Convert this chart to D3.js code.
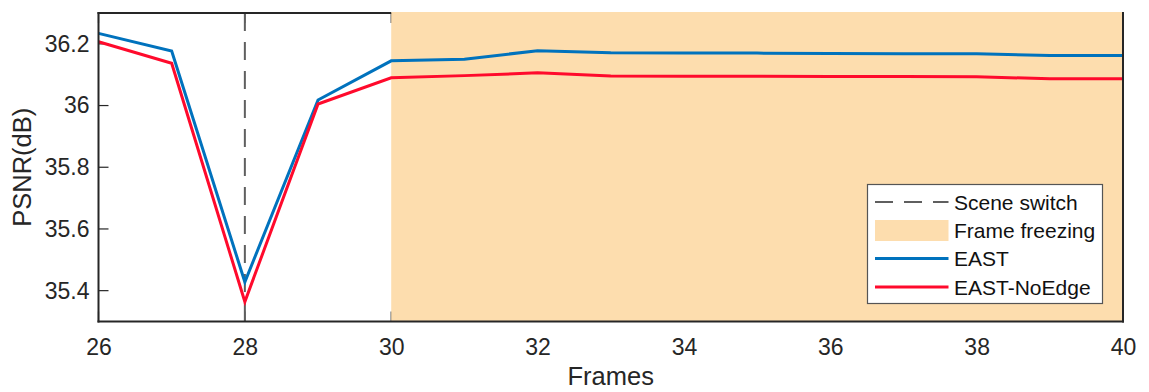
<!DOCTYPE html>
<html>
<head>
<meta charset="utf-8">
<script src="https://cdn.jsdelivr.net/npm/d3@7"></script>
<style>
  html, body { margin: 0; padding: 0; background: #fff; }
  svg { display: block; font-family: "Liberation Sans", Arial, Helvetica, sans-serif; }
</style>
</head>
<body>
<svg id="chart" width="1149" height="392"></svg>
<script>
// Frame indices and PSNR per method
const frames = [26, 27, 28, 29, 30, 31, 32, 33, 34, 35, 36, 37, 38, 39, 40];
const eastPSNR = [36.234, 36.177, 35.428, 36.018, 36.145, 36.150, 36.178, 36.171, 36.170, 36.170, 36.169, 36.168, 36.168, 36.162, 36.162];
const noEdgePSNR = [36.207, 36.137, 35.364, 36.005, 36.090, 36.097, 36.106, 36.096, 36.095, 36.095, 36.094, 36.094, 36.093, 36.087, 36.087];

// Events
const sceneSwitchFrame = 28;
const freezeRange = [30, 40];

// Axis ticks
const xTicks = [26, 28, 30, 32, 34, 36, 38, 40];
const yTicks = [35.4, 35.6, 35.8, 36, 36.2];
const xDomain = [26, 40];
const yDomain = [35.3, 36.3];

const legendItems = ["Scene switch", "Frame freezing", "EAST", "EAST-NoEdge"];

const C = {
  blue: "#0072BD",
  red: "#FF0A2C",
  freeze: "#FDDDAE",
  dash: "#5f5f5f",
  axis: "#262626"
};

const svg = d3.select("#chart");
const L = 98.5, R = 1123, T = 13, B = 321.5;

const x = d3.scaleLinear().domain(xDomain).range([L, R]);
const y = d3.scaleLinear().domain(yDomain).range([B, T]);

// Inward ticks on all four sides (drawn first so the freeze band covers them)
const tickLen = 10;
const gTicks = svg.append("g").attr("stroke", C.axis).attr("stroke-width", 1.2);
xTicks.forEach(v => {
  gTicks.append("line").attr("x1", x(v)).attr("x2", x(v)).attr("y1", B).attr("y2", B - tickLen);
  gTicks.append("line").attr("x1", x(v)).attr("x2", x(v)).attr("y1", T).attr("y2", T + tickLen);
});
yTicks.forEach(v => {
  gTicks.append("line").attr("x1", L).attr("x2", L + tickLen).attr("y1", y(v)).attr("y2", y(v));
  gTicks.append("line").attr("x1", R).attr("x2", R - tickLen).attr("y1", y(v)).attr("y2", y(v));
});

// Frame-freezing band
svg.append("rect")
  .attr("x", x(freezeRange[0]))
  .attr("y", T - 1)
  .attr("width", x(freezeRange[1]) - x(freezeRange[0]))
  .attr("height", B - T + 1)
  .attr("fill", C.freeze);

// Scene switch marker
svg.append("line")
  .attr("x1", x(sceneSwitchFrame)).attr("x2", x(sceneSwitchFrame))
  .attr("y1", T).attr("y2", B)
  .attr("stroke", C.dash)
  .attr("stroke-width", 2)
  .attr("stroke-dasharray", "18,11");

// PSNR curves
const line = d3.line().x(d => x(d[0])).y(d => y(d[1]));
svg.append("path")
  .datum(frames.map((f, i) => [f, eastPSNR[i]]))
  .attr("d", line).attr("fill", "none")
  .attr("stroke", C.blue).attr("stroke-width", 3).attr("stroke-linejoin", "miter");
svg.append("path")
  .datum(frames.map((f, i) => [f, noEdgePSNR[i]]))
  .attr("d", line).attr("fill", "none")
  .attr("stroke", C.red).attr("stroke-width", 3).attr("stroke-linejoin", "miter");

// Axis box (top edge only visible where the band does not cover it)
const gBox = svg.append("g").attr("stroke", C.axis).attr("stroke-width", 2).attr("fill", "none");
gBox.append("line").attr("x1", L).attr("x2", L).attr("y1", T - 1).attr("y2", B + 1);
gBox.append("line").attr("x1", L - 1).attr("x2", R + 1).attr("y1", B).attr("y2", B);
gBox.append("line").attr("x1", R).attr("x2", R).attr("y1", T - 1).attr("y2", B + 1);
gBox.append("line").attr("x1", L - 1).attr("x2", x(freezeRange[0])).attr("y1", T).attr("y2", T);

// Tick labels via d3 axes (tick lines themselves hidden)
const xAxis = d3.axisBottom(x).tickValues(xTicks).tickSize(0).tickPadding(17).tickFormat(d3.format("d"));
const gx = svg.append("g").attr("transform", `translate(0,${B})`).call(xAxis);
gx.select(".domain").remove();
gx.selectAll("text").attr("font-size", 23).attr("fill", C.axis).attr("font-family", "Liberation Sans, Arial, sans-serif");

const yAxis = d3.axisLeft(y).tickValues(yTicks).tickSize(0).tickPadding(9).tickFormat(d3.format("~g"));
const gy = svg.append("g").attr("transform", `translate(${L},0)`).call(yAxis);
gy.select(".domain").remove();
gy.selectAll("text").attr("font-size", 23).attr("fill", C.axis).attr("font-family", "Liberation Sans, Arial, sans-serif");

// Axis titles
svg.append("text")
  .attr("x", (L + R) / 2).attr("y", 385)
  .attr("text-anchor", "middle").attr("font-size", 25.5).attr("fill", C.axis)
  .text("Frames");
svg.append("text")
  .attr("transform", `translate(31,${(T + B) / 2}) rotate(-90)`)
  .attr("text-anchor", "middle").attr("font-size", 25.5).attr("fill", C.axis)
  .text("PSNR(dB)");

// Legend
const lg = svg.append("g");
lg.append("rect")
  .attr("x", 867.5).attr("y", 184.5).attr("width", 235).attr("height", 119)
  .attr("fill", "#fff").attr("stroke", "#555").attr("stroke-width", 1.2);
const rowY = [202, 230.5, 258.5, 287];
const sx0 = 875, sx1 = 948.5, tx = 954;
lg.append("line").attr("x1", sx0).attr("x2", sx1).attr("y1", rowY[0]).attr("y2", rowY[0])
  .attr("stroke", C.dash).attr("stroke-width", 2).attr("stroke-dasharray", "18,11");
lg.append("rect").attr("x", sx0).attr("y", rowY[1] - 10.5).attr("width", sx1 - sx0).attr("height", 21)
  .attr("fill", C.freeze);
lg.append("line").attr("x1", sx0).attr("x2", sx1).attr("y1", rowY[2]).attr("y2", rowY[2])
  .attr("stroke", C.blue).attr("stroke-width", 3);
lg.append("line").attr("x1", sx0).attr("x2", sx1).attr("y1", rowY[3]).attr("y2", rowY[3])
  .attr("stroke", C.red).attr("stroke-width", 3);
legendItems.forEach((t, i) => {
  lg.append("text").attr("x", tx).attr("y", rowY[i] + 7.5)
    .attr("font-size", 21).attr("fill", "#111").text(t);
});
</script>
</body>
</html>
